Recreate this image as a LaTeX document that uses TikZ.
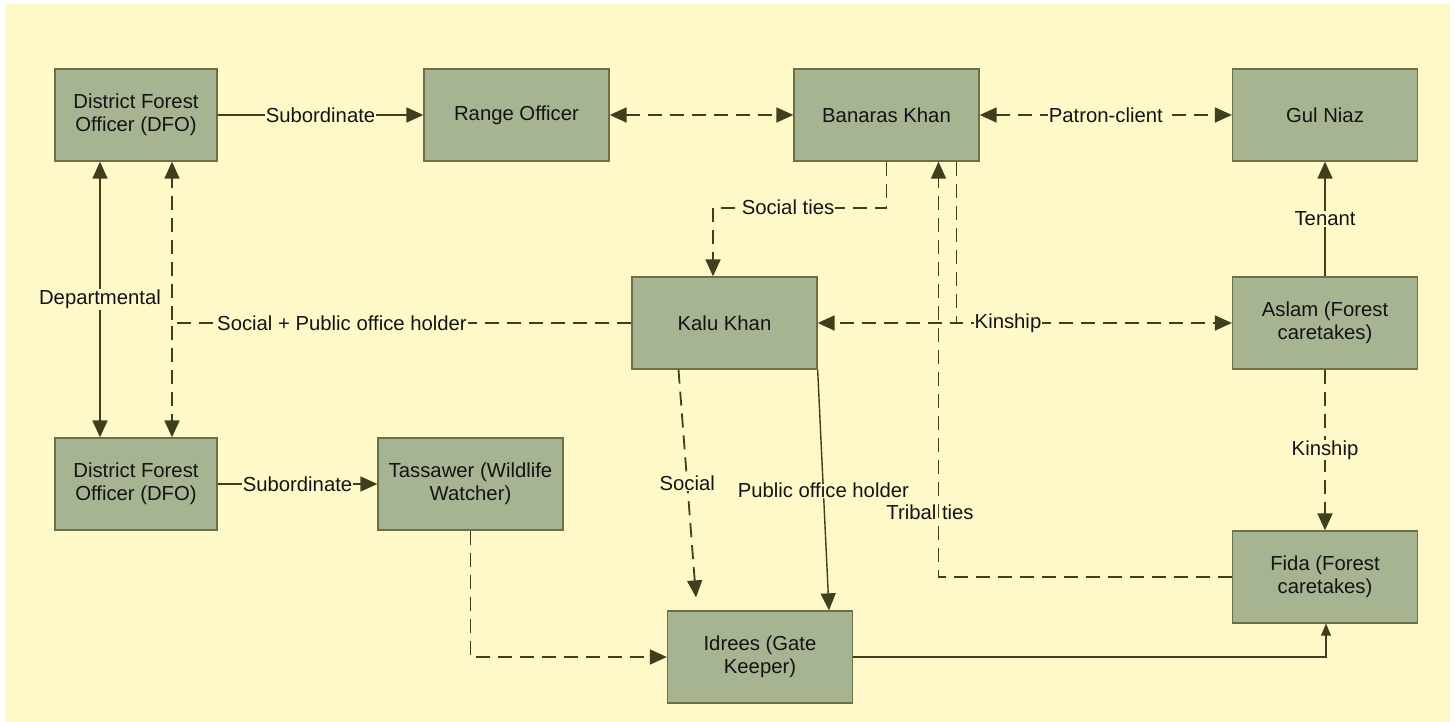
\documentclass[tikz,border=0pt]{standalone}
\usepackage{fontspec}
\setmainfont{Liberation Sans}
\usetikzlibrary{arrows.meta}
\definecolor{bg}{HTML}{FFF9C9}
\definecolor{boxfill}{HTML}{A6B491}
\definecolor{boxborder}{HTML}{6B7048}
\definecolor{linec}{HTML}{3F3F1E}
\definecolor{txt}{HTML}{141414}
\newcommand{\fs}{\fontsize{20.3}{23}\selectfont}
\tikzset{
  x=1pt, y=-1pt,
  box/.style={draw=boxborder, fill=boxfill, line width=1.3pt, minimum width=185pt,
    minimum height=92pt, align=center, inner sep=0pt, font=\fs, text=txt},
  narrowbox/.style={box, minimum width=162pt},
  lbl/.style={fill=bg, inner sep=1pt, font=\fs, text=txt},
  plainlbl/.style={inner sep=1pt, font=\fs, text=txt},
  conn/.style={draw=linec, line width=1.8pt},
  thin/.style={draw=linec, line width=1.1pt},
  dsh/.style={dash pattern=on 14pt off 8pt},
  tipa/.tip={Triangle[length=17pt,width=15pt]},
  tipb/.tip={Triangle[length=12pt,width=10pt]},
}
\begin{document}
\begin{tikzpicture}
\useasboundingbox (0,0) rectangle (1455,722);
\fill[white] (0,0) rectangle (1455,722);
\fill[bg] (5,4) rectangle (1450,722);

% nodes
\node[narrowbox] (dfo1) at (136,115) {District Forest\\Officer (DFO)};
\node[box] (range) at (516.5,115) {Range Officer};
\node[box] (banaras) at (886.5,115) {Banaras Khan};
\node[box] (gul) at (1325,115) {Gul Niaz};
\node[box] (kalu) at (724.5,323) {Kalu Khan};
\node[box] (aslam) at (1325,323) {Aslam (Forest\\caretakes)};
\node[narrowbox] (dfo2) at (136,484) {District Forest\\Officer (DFO)};
\node[box] (tass) at (470.5,484) {Tassawer (Wildlife\\Watcher)};
\node[box] (idrees) at (760,657) {Idrees (Gate\\Keeper)};
\node[box] (fida) at (1325,577) {Fida (Forest\\caretakes)};

% top row
\draw[conn,-tipa] (dfo1) -- node[lbl]{Subordinate} (range);
\draw[conn,dsh,tipa-tipa] (range) -- (banaras);
\draw[conn,dsh,tipa-tipa] (banaras) -- node[lbl]{Patron-client} (gul);

% DFO verticals
\draw[conn,tipa-tipa] ([xshift=-36pt]dfo1.south) -- node[lbl]{Departmental} ([xshift=-36pt]dfo2.north);
\draw[conn,dsh,-tipa] (kalu.west) -| ([xshift=36pt]dfo1.south);
\draw[conn,dsh,-tipa] (kalu.west) -| ([xshift=36pt]dfo2.north);
\node[lbl] (splbl) at (342,323) {Social + Public office holder};

% Banaras to Kalu
\draw[conn,dsh,-tipa] (banaras.south) -- ++(0,46) -| ([xshift=-11.5pt]kalu.north);
\node[lbl] (stlbl) at (788,207) {Social ties};

% Banaras to Aslam and Kalu
\draw[conn,dsh,-tipa] ([xshift=70pt]banaras.south) |- (aslam.west);
\draw[conn,dsh,-tipa] ([xshift=70pt]banaras.south) |- (kalu.east);
\node[lbl] (kinlbl) at (1008,323) {Kinship};

% Fida to Banaras
\draw[conn,dsh,-tipa] (fida.west) -| ([xshift=52pt]banaras.south);
\node[plainlbl] (tribal) at (930,512) {Tribal ties};

% Aslam links
\draw[conn,-tipa] (aslam) -- node[lbl]{Tenant} (gul);
\draw[conn,dsh,-tipa] (aslam) -- node[lbl]{Kinship} (fida);

% bottom row
\draw[conn,-tipa] (dfo2) -- node[lbl]{Subordinate} (tass);
\draw[conn,dsh,-tipa] (tass.south) |- (idrees.west);

% Kalu to Idrees
\draw[conn,dsh,-tipa,shorten >=13pt] ([xshift=-46pt]kalu.south) -- node[lbl, pos=0.47]{Social} ([xshift=-63pt]idrees.north);
\draw[conn,line width=1.4pt,-tipa] (kalu.south east) -- node[lbl]{Public office holder} ([xshift=69pt]idrees.north);

% Idrees to Fida
\draw[thin,-tipb] (idrees.east) -| ([xshift=1pt]fida.south);
\end{tikzpicture}
\end{document}
